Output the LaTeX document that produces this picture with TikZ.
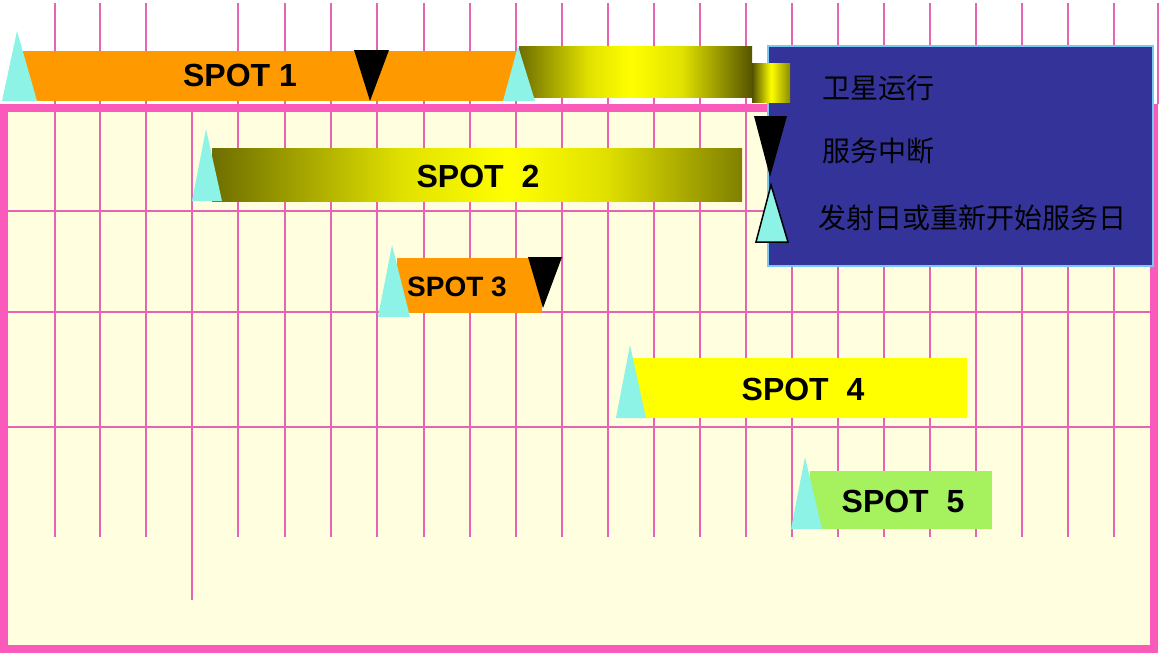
\documentclass[tikz,border=0pt]{standalone}
\usepackage{fontspec}
\setmainfont{Liberation Sans}
\newfontfamily\cjk{Noto Sans CJK SC}
\definecolor{cyantri}{RGB}{140,243,230}
\definecolor{spotorange}{RGB}{255,153,0}
\definecolor{spotyellow}{RGB}{255,255,0}
\definecolor{spotgreen}{RGB}{166,242,94}
\definecolor{olivedark}{RGB}{110,110,0}
\definecolor{olivemid}{RGB}{128,128,0}
\definecolor{olivedeep}{RGB}{85,85,0}
\definecolor{olivelegL}{RGB}{80,80,0}
\definecolor{olivelegR}{RGB}{140,140,0}
\definecolor{yellowsoft}{RGB}{225,225,0}
\definecolor{gridpink}{RGB}{230,100,180}
\definecolor{borderpink}{RGB}{250,90,185}
\definecolor{cream}{RGB}{255,255,224}
\definecolor{legendblue}{RGB}{51,51,153}
\definecolor{legendedge}{RGB}{120,200,240}
\pgfdeclarehorizontalshading{topbar}{100bp}{color(0bp)=(olivedark); color(25bp)=(olivedark); color(40bp)=(yellowsoft); color(49bp)=(spotyellow); color(60bp)=(yellowsoft); color(75bp)=(olivedeep); color(100bp)=(olivedeep)}
\pgfdeclarehorizontalshading{spottwobar}{100bp}{color(0bp)=(olivedark); color(25bp)=(olivedark); color(43bp)=(yellowsoft); color(53bp)=(spotyellow); color(62bp)=(yellowsoft); color(75bp)=(olivemid); color(100bp)=(olivemid)}
\pgfdeclarehorizontalshading{legendbar}{100bp}{color(0bp)=(olivelegL); color(25bp)=(olivelegL); color(50bp)=(spotyellow); color(75bp)=(olivelegR); color(100bp)=(olivelegR)}
\begin{document}
\begin{tikzpicture}[x=1pt,y=-1pt,
  gridline/.style={draw=gridpink,line width=2pt},
  spotlabel/.style={font=\fontsize{32}{32}\selectfont\bfseries, text=black, inner sep=0pt, anchor=center},
  spotsmall/.style={font=\fontsize{28}{28}\selectfont\bfseries, text=black, inner sep=0pt, anchor=center},
  legendtext/.style={font=\cjk\fontsize{28}{28}\selectfont, text=black, inner sep=0pt, anchor=west},
  launch/.style={fill=cyantri},
  outage/.style={fill=black}]
\useasboundingbox (0,0) rectangle (1161,653);
\fill[white] (0,0) rectangle (1161,653);
\fill[cream] (4,108) rectangle (1154,649);
% grid
\foreach \x in {55,100,146,238,285,331,377,424,470,516,562,608,654,700,746,792,838,884,930,976,1022,1068,1114}
  \draw[gridline] (\x,3) -- (\x,537);
\draw[gridline] (192,108) -- (192,600);
\draw[gridline] (1158,3) -- (1158,104);
\foreach \y in {211,312,427}
  \draw[gridline] (8,\y) -- (1150,\y);
\draw[draw=borderpink,line width=8pt] (4,108) rectangle (1154,649);
% SPOT 1
\fill[spotorange] (22,51) rectangle (519,101);
\shade[shading=topbar] (519,46) rectangle (752,97);
\fill[launch] (2,101) -- (37,101) -- (17,31) -- cycle;
\fill[outage] (354,50) -- (389,50) -- (370,101) -- cycle;
\fill[launch] (503,101) -- (535,101) -- (518,46) -- cycle;
\node[spotlabel] (s1) at (240,75) {SPOT 1};
% SPOT 2
\shade[shading=spottwobar] (212,148) rectangle (742,201);
\fill[launch] (192,201) -- (222,201) -- (206,129) -- cycle;
\node[spotlabel] (s2) at (478,176) {SPOT~~2};
% SPOT 3
\fill[spotorange] (397,258) rectangle (542,313);
\fill[launch] (378,317) -- (410,317) -- (392,245) -- cycle;
\fill[outage] (528,257) -- (562,257) -- (543,308) -- cycle;
\node[spotsmall] (s3) at (457,287) {SPOT 3};
% SPOT 4
\fill[spotyellow] (630,358) rectangle (967,418);
\fill[launch] (616,418) -- (646,418) -- (630,345) -- cycle;
\node[spotlabel] (s4) at (803,389) {SPOT~~4};
% SPOT 5
\fill[spotgreen] (810,471) rectangle (992,529);
\fill[launch] (791,529) -- (822,529) -- (805,457) -- cycle;
\node[spotlabel] (s5) at (903,501) {SPOT~~5};
% legend
\filldraw[fill=legendblue, draw=legendedge, line width=2pt] (768,46) rectangle (1153,266);
\shade[shading=legendbar] (752,63) rectangle (790,102);
\fill[outage] (754,116) -- (787,116) -- (770,177) -- cycle;
\filldraw[fill=cyantri, draw=black, line width=1.5pt] (756,242) -- (788,242) -- (771,185) -- cycle;
\node[legendtext] (l1) at (822,88) {卫星运行};
\node[legendtext] (l2) at (822,151) {服务中断};
\node[legendtext] (l3) at (818,218) {发射日或重新开始服务日};
\end{tikzpicture}
\end{document}
